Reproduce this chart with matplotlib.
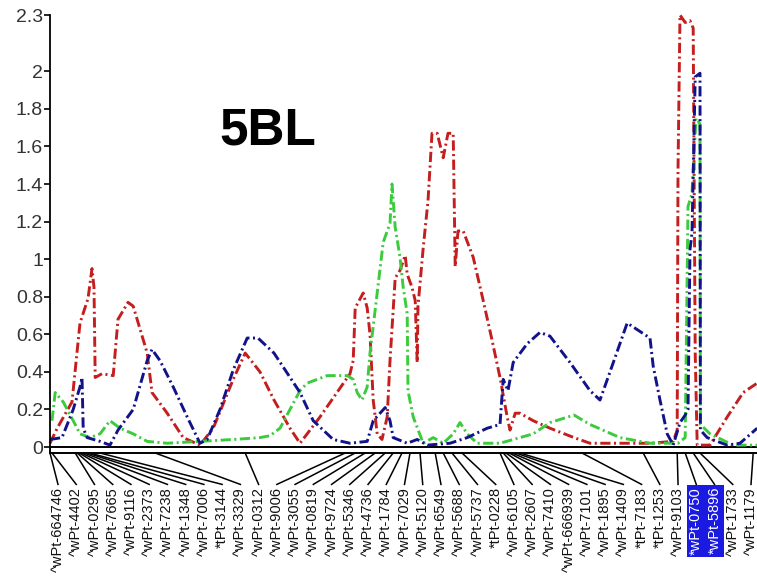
import numpy as np
import matplotlib
matplotlib.use("Agg")
from matplotlib import pyplot as plt
from matplotlib.patches import Rectangle

plt.rcParams['font.family'] = ['Liberation Sans', 'DejaVu Sans']

# marker map of chromosome 5BL (position in cM)
markerNames = ["^wPt-664746", "^wPt-4402", "^wPt-0295", "^wPt-7665", "^wPt-9116",
               "^wPt-2373", "^wPt-7238", "^wPt-1348", "^wPt-7006", "*tPt-3144",
               "^wPt-3329", "^wPt-0312", "^wPt-9006", "^wPt-3055", "^wPt-0819",
               "^wPt-9724", "^wPt-5346", "^wPt-4736", "^wPt-1784", "^wPt-7029",
               "^wPt-5120", "^wPt-6549", "^wPt-5688", "^wPt-5737", "*tPt-0228",
               "^wPt-6105", "^wPt-2607", "^wPt-7410", "^wPt-666939", "^wPt-7101",
               "^wPt-1895", "^wPt-1409", "*tPt-7183", "*tPt-1253", "^wPt-9103",
               "*wPt-0750", "*wPt-5896", "^wPt-1733", "^wPt-1179"]
markerPos = [0, 0.5, 6.3, 6.8, 7.3, 7.8, 8.5, 9.3, 10, 12.5,
             26.3, 48.8, 73.8, 76.3, 78.8, 81.3, 83.8, 85.8, 88, 90,
             92.5, 96.3, 98.3, 100.5, 103, 112.5, 113.3, 114, 114.8, 115.5,
             116.5, 117.5, 133, 148.3, 156.8, 158.8, 160.8, 162.5, 175.8]
highlighted = ["*wPt-0750", "*wPt-5896"]

# LOD profiles
redPos = [0, 1.8, 5.5, 7.5, 9.5, 10.5, 11.0, 11.3, 13, 15.8, 17, 19.5, 20.8, 24.3, 25.5,
          29.3, 33.3, 37.5, 40.8, 45.8, 48.8, 52.5, 56, 60, 62.5, 67.5, 75, 75.8, 76.3,
          78.3, 79.3, 80, 80.8, 81.8, 83, 84.3, 85, 86.3, 87.5, 88.8, 89.3, 90.5, 91.3,
          91.8, 92, 93.3, 94.5, 95.5, 96.8, 98.3, 99.5, 100.8, 101.3, 102, 103.3, 105.8,
          108.3, 110.5, 112.5, 114.3, 115, 116.3, 117.5, 120.8, 125, 131, 135, 150,
          155.8, 156.8, 157, 157.5, 158.8, 160, 160.8, 161.3, 161.8, 165, 169.3, 173.3, 176.8]
redLod = [0.02, 0.1, 0.24, 0.66, 0.79, 0.95, 0.85, 0.37, 0.39, 0.38, 0.68, 0.77, 0.75, 0.5, 0.29,
          0.18, 0.05, 0.01, 0.1, 0.36, 0.5, 0.4, 0.25, 0.1, 0.02, 0.16, 0.39, 0.46, 0.74,
          0.82, 0.74, 0.6, 0.25, 0.07, 0.04, 0.16, 0.46, 0.9, 0.94, 1.02, 0.92, 0.85, 0.78,
          0.45, 0.75, 1.06, 1.31, 1.67, 1.67, 1.54, 1.67, 1.67, 0.96, 1.15, 1.15, 1.01,
          0.78, 0.57, 0.37, 0.16, 0.09, 0.18, 0.18, 0.14, 0.1, 0.05, 0.02, 0.02,
          0.03, 0.09, 1.47, 2.3, 2.26, 2.27, 2.23, 0.5, 0.01, 0.01, 0.16, 0.29, 0.34]

bluePos = [0, 3, 5.8, 7.5, 8, 8.3, 9.3, 12.5, 15, 17, 20.8, 24.3, 25.5, 27.5, 30.8, 34.3,
           37.5, 39.3, 42.5, 45.8, 49.3, 52, 56, 62.5, 65.8, 70.8, 75, 79.3, 80.8, 83.8,
           85, 85.8, 89.3, 91.8, 94.3, 100, 104.3, 109.3, 112.5, 113.3, 114.5, 115.8,
           119.3, 122.5, 125, 130, 135, 137.5, 140, 144.3, 150, 150.8, 152.5, 154.3,
           155.8, 157.5, 158.8, 159.5, 160, 160.5, 161.3, 162.5, 162.6, 164.3, 169.3,
           172.5, 176.8]
blueLod = [0.04, 0.05, 0.2, 0.32, 0.37, 0.1, 0.05, 0.03, 0.01, 0.09, 0.2, 0.46, 0.52, 0.46,
           0.32, 0.16, 0.02, 0.04, 0.2, 0.41, 0.58, 0.58, 0.5, 0.29, 0.14, 0.04, 0.02,
           0.03, 0.14, 0.21, 0.14, 0.05, 0.02, 0.04, 0.01, 0.02, 0.05, 0.1, 0.12, 0.36,
           0.3, 0.45, 0.55, 0.61, 0.59, 0.45, 0.3, 0.25, 0.4, 0.66, 0.58, 0.43, 0.25,
           0.07, 0.01, 0.13, 0.17, 0.2, 1.05, 1.14, 1.97, 1.99, 0.09, 0.05, 0.01, 0.02, 0.1]

greenPos = [0.5, 1.3, 3.3, 5.8, 7.5, 10, 12.5, 15, 17.5, 20.8, 24.3, 29.3, 37.5, 45.8,
            52.5, 55, 57.5, 60, 62.5, 64.3, 69.3, 74.3, 75.8, 76.8, 78, 79.3, 80, 81.8,
            83.3, 85, 85.5, 86.3, 87.5, 88.3, 89.3, 89.5, 90.8, 93.3, 95.8, 98.3, 100.8,
            102.5, 104.3, 106.8, 112.5, 120.8, 125, 131, 135, 142.5, 150, 157, 158.8,
            159.5, 160.5, 161.5, 162.5, 162.6, 165, 170.8, 176.8]
greenLod = [0.14, 0.29, 0.24, 0.14, 0.07, 0.05, 0.07, 0.14, 0.1, 0.07, 0.03, 0.02, 0.03,
            0.04, 0.05, 0.06, 0.1, 0.2, 0.3, 0.34, 0.38, 0.38, 0.36, 0.29, 0.25, 0.32,
            0.5, 0.82, 1.09, 1.19, 1.4, 1.17, 1.01, 0.85, 0.71, 0.3, 0.16, 0.02, 0.05,
            0.02, 0.07, 0.13, 0.07, 0.02, 0.02, 0.07, 0.13, 0.17, 0.12, 0.05, 0.02, 0.02,
            0.05, 1.28, 1.35, 1.75, 1.72, 0.12, 0.07, 0.01, 0.01]

yTicks = [0, 0.2, 0.4, 0.6, 0.8, 1, 1.2, 1.4, 1.6, 1.8, 2, 2.3]
yTickLabels = ["0", "0.2", "0.4", "0.6", "0.8", "1", "1.2", "1.4", "1.6", "1.8", "2", "2.3"]

xMax = 176.75
dashDot = (0, (3.5, 1.2, 0.7, 1.2))

fig = plt.figure(figsize=(7.57, 5.82), dpi=100)
ax = fig.add_axes([50/757, 1-447/582, 707/757, 432/582])

ax.plot(redPos, redLod, color="#c41e1e", lw=2.1, ls=dashDot, clip_on=False)
ax.plot(greenPos, greenLod, color="#3ccb3c", lw=2.1, ls=dashDot, clip_on=False)
ax.plot(bluePos, blueLod, color="#12128a", lw=2.1, ls=dashDot, clip_on=False)

ax.set_xlim(0, xMax)
ax.set_ylim(0, 2.3)
ax.set_yticks(yTicks)
ax.set_yticklabels(yTickLabels, fontsize=14, color="#333333")
ax.tick_params(axis="y", direction="out", length=4, width=1.2, pad=1)
ax.set_xticks([])
for side in ["top", "right", "bottom"]:
    ax.spines[side].set_visible(False)
ax.spines["left"].set_linewidth(1.3)

ax.text(0.308, 0.731, "5BL", transform=ax.transAxes, fontsize=37,
        fontweight="bold", ha="center", va="center")

# chromosome strip under the plot
stripTop = 0.0
stripBottom = -6/432
ax.add_patch(Rectangle((0, stripBottom), 1.01, stripTop - stripBottom,
                       transform=ax.transAxes, facecolor="white", edgecolor="black",
                       lw=1.4, clip_on=False))

# connectors from marker positions to evenly spaced labels
labelTop = -40/432
labelX = np.linspace(8/707, 701/707, len(markerNames))
for name, pos, lx in zip(markerNames, markerPos, labelX):
    mx = pos / xMax
    ax.plot([mx, lx], [stripBottom, labelTop + 0.006], transform=ax.transAxes,
            color="black", lw=1.1, clip_on=False)
    if name in highlighted:
        ax.text(lx, labelTop, name, transform=ax.transAxes, rotation=90,
                ha="center", va="top", fontsize=10.5, color="white",
                bbox=dict(boxstyle="square,pad=0.15", fc="#1a1ae0", ec="none"))
    else:
        ax.text(lx, labelTop, name, transform=ax.transAxes, rotation=90,
                ha="center", va="top", fontsize=10.5, color="#111111")

fig.savefig("out.png", dpi=100)
